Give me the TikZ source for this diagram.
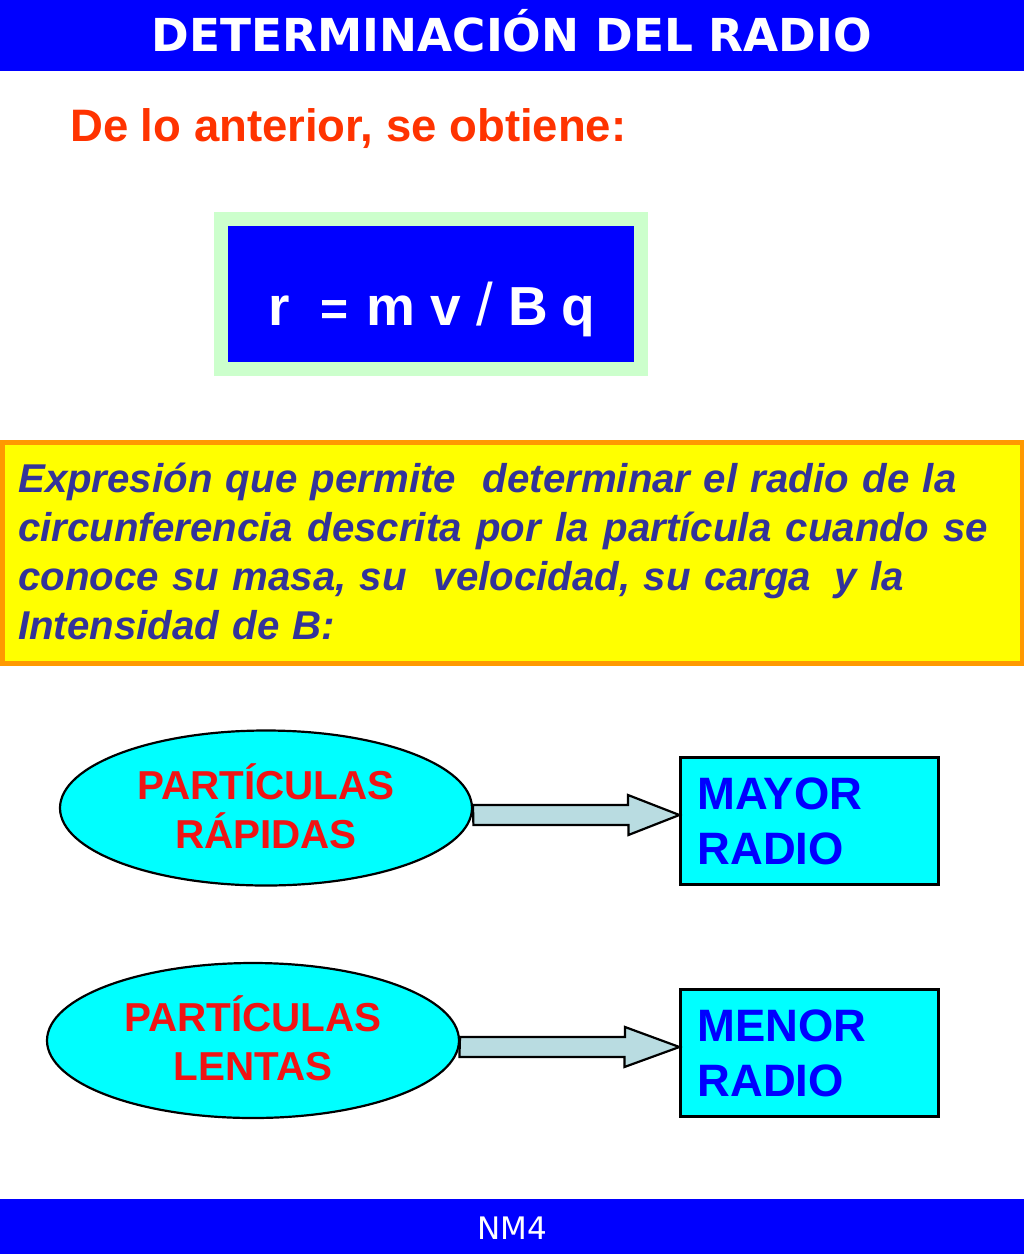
\documentclass[tikz,border=0pt]{standalone}
\usepackage{fontspec}
\setmainfont{Liberation Sans}
\newfontfamily\anchafont{DejaVu Sans}
\usetikzlibrary{shapes.geometric,positioning}
\definecolor{azulfuerte}{RGB}{0,0,255}
\definecolor{verdeclaro}{RGB}{204,255,204}
\definecolor{naranjo}{RGB}{255,153,0}
\definecolor{rojizo}{RGB}{255,51,0}
\definecolor{rojopuro}{RGB}{240,20,20}
\definecolor{amarillo}{RGB}{255,255,0}
\definecolor{azulnoche}{RGB}{51,51,153}
\definecolor{celeste}{RGB}{0,255,255}
\definecolor{grisazul}{RGB}{185,220,225}
\tikzset{banda/.style = {fill=azulfuerte, inner sep=0, minimum width=1024pt},
         elipse/.style = {ellipse, draw=black, line width=2.2pt, fill=celeste, inner sep=0,
                          minimum width=412pt, minimum height=155pt, align=center, text depth=4pt,
                          text=rojopuro, font=\bfseries\fontsize{40.4}{49}\selectfont},
         resultado/.style = {rectangle, draw=black, line width=2.2pt, fill=celeste,
                             minimum width=258pt, minimum height=127pt,
                             inner xsep=17pt, inner ysep=0, align=left, text width=224pt,
                             text=azulfuerte, font=\bfseries\fontsize{45.4}{55}\selectfont},
         flecha/.style = {draw=black, line width=2.2pt, fill=grisazul, line join=miter}
        }
\newcommand{\bloque}[4]{% cola, punta, largo del cuerpo, largo de la cabeza
  \draw[flecha] (#1) ++(0,-10) -- ++(#3,0) -- ++(0,-10) -- (#2)
                -- ++(-#4,20) -- ++(0,-10) -- ++(-#3,0) -- cycle;
}
\begin{document}
\begin{tikzpicture}[x=1pt, y=-1pt]
  \useasboundingbox (0,0) rectangle (1024,1254);
  % bandas
  \node[banda, minimum height=71pt] (cabeza) at (512,35.5) {};
  \node[text=white, inner sep=0, font=\anchafont\bfseries\fontsize{45.4}{54}\selectfont] (titulo) at (512,31) {DETERMINACIÓN DEL RADIO};
  \node[banda, minimum height=55pt] (pie) at (512,1226.5) {};
  \node[text=white, inner sep=0, font=\anchafont\fontsize{31}{36}\selectfont] (nivel) at (512,1228) {NM4};
  \node[anchor=base west, inner sep=0, text=rojizo, font=\bfseries\fontsize{45.5}{52}\selectfont] (obtiene) at (70,141) {De lo anterior, se obtiene:};
  % formula
  \node[draw=verdeclaro, line width=14pt, fill=azulfuerte, minimum width=420pt, minimum height=150pt, inner sep=0] (marco) at (431,294) {};
  \node[anchor=base, inner sep=0, text=white, font=\bfseries\fontsize{55}{66}\selectfont] (formula) at (431.5,325) {r\ \ {\fontsize{48}{48}\selectfont =}\kern3pt{} m v {\mdseries\fontsize{60}{60}\selectfont /} B\kern-2.5pt{} q};
  % explicacion
  \node[draw=naranjo, line width=5pt, fill=amarillo, minimum width=1020pt, minimum height=221pt, inner sep=0] (marcotexto) at (512,552.5) {};
  \node[anchor=west, inner sep=0, text width=1000pt, align=left, text=azulnoche,
        font=\bfseries\itshape\fontsize{40.2}{49}\selectfont] (explica) at (18,551)
       {Expresión que permite \ determinar el radio de la\\
        {\spaceskip=14.6pt circunferencia descrita por la partícula cuando se}\\
        conoce su masa, su \ velocidad, su carga\hspace{23.5pt}y la\\
        Intensidad de B:};
  % particulas
  \node[elipse] (rapidas) at (266,808) {PARTÍCULAS\\RÁPIDAS};
  \node[elipse] (lentas) at (253,1040.5) {PARTÍCULAS\\LENTAS};
  \node[resultado] (mayor) at (809.5,821) {MAYOR\\RADIO};
  \node[resultado] (menor) at (809.5,1053) {MENOR\\RADIO};
  \coordinate (colaA) at (473,815);
  \coordinate (puntaA) at (mayor.west |- colaA);
  \coordinate (colaB) at (460,1047);
  \coordinate (puntaB) at (menor.west |- colaB);
  \bloque{colaA}{puntaA}{155}{51}
  \bloque{colaB}{puntaB}{165}{55}
\end{tikzpicture}
\end{document}
